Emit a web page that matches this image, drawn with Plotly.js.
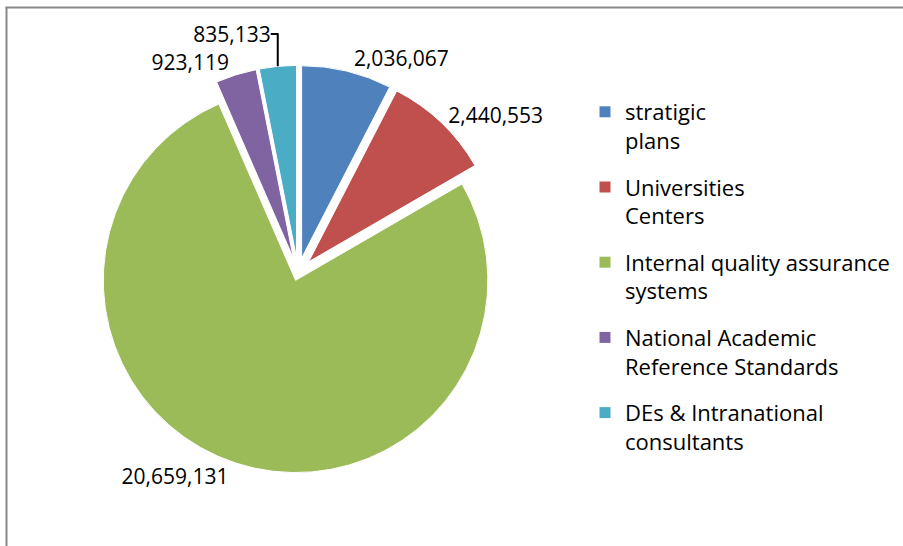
<!DOCTYPE html>
<html>
<head>
<meta charset="utf-8">
<script src="https://cdn.plot.ly/plotly-3.0.1.min.js"></script>
<style>html,body{margin:0;padding:0;background:#fff;}#chart{width:903px;height:546px;}</style>
</head>
<body>
<div id="chart"></div>
<script>
const categories = [
  "stratigic<br>plans",
  "Universities<br>Centers",
  "Internal quality assurance<br>systems",
  "National Academic<br>Reference Standards",
  "DEs & Intranational<br>consultants"
];
const values = [2036067, 2440553, 20659131, 923119, 835133];
const colors = ["#4F81BD", "#C0504D", "#9BBB59", "#8064A2", "#4BACC6"];

const W = 903, H = 546;
const FONT = "'Open Sans', Lato, sans-serif";

const pie = {
  type: "pie",
  labels: categories,
  values: values,
  sort: false,
  direction: "clockwise",
  rotation: 0,
  pull: [0.08, 0.08, 0.04, 0.08, 0.08],
  marker: {colors: colors, line: {color: "#ffffff", width: 1}},
  textposition: "outside",
  texttemplate: "%{value:,}",
  textfont: {family: FONT, size: 21, color: "#000"},
  hoverinfo: "label+value",
  domain: {x: [0.1, 0.56], y: [0.04, 0.96]},
  showlegend: false
};

// legend entries built from the same category/colour arrays
const legendTraces = categories.map((c, i) => ({
  type: "scatter", mode: "markers",
  x: [null], y: [null],
  name: c,
  legendgroup: "g" + i,
  marker: {symbol: "square", size: 11, color: colors[i]},
  showlegend: true,
  hoverinfo: "skip"
}));

const layout = {
  width: W, height: H,
  margin: {l: 0, r: 0, t: 0, b: 0},
  paper_bgcolor: "#ffffff",
  plot_bgcolor: "rgba(0,0,0,0)",
  xaxis: {visible: false},
  yaxis: {visible: false},
  showlegend: true,
  legend: {
    x: 585 / W, y: 1 - 91 / H, xanchor: "left", yanchor: "top",
    valign: "top",
    traceorder: "grouped",
    font: {family: FONT, size: 22, color: "#000"},
    itemwidth: 30,
    tracegroupgap: 15,
    bgcolor: "rgba(0,0,0,0)"
  },
  shapes: [
    {type: "line", xref: "paper", yref: "paper", x0: 6.5 / W, x1: 6.5 / W, y0: 0, y1: 1 - 7.5 / H, line: {color: "#888888", width: 2}},
    {type: "line", xref: "paper", yref: "paper", x0: 5.5 / W, x1: 1, y0: 1 - 7.5 / H, y1: 1 - 7.5 / H, line: {color: "#888888", width: 2}}
  ]
};

Plotly.newPlot("chart", [pie].concat(legendTraces), layout, {displayModeBar: false, staticPlot: true});
</script>
</body>
</html>
